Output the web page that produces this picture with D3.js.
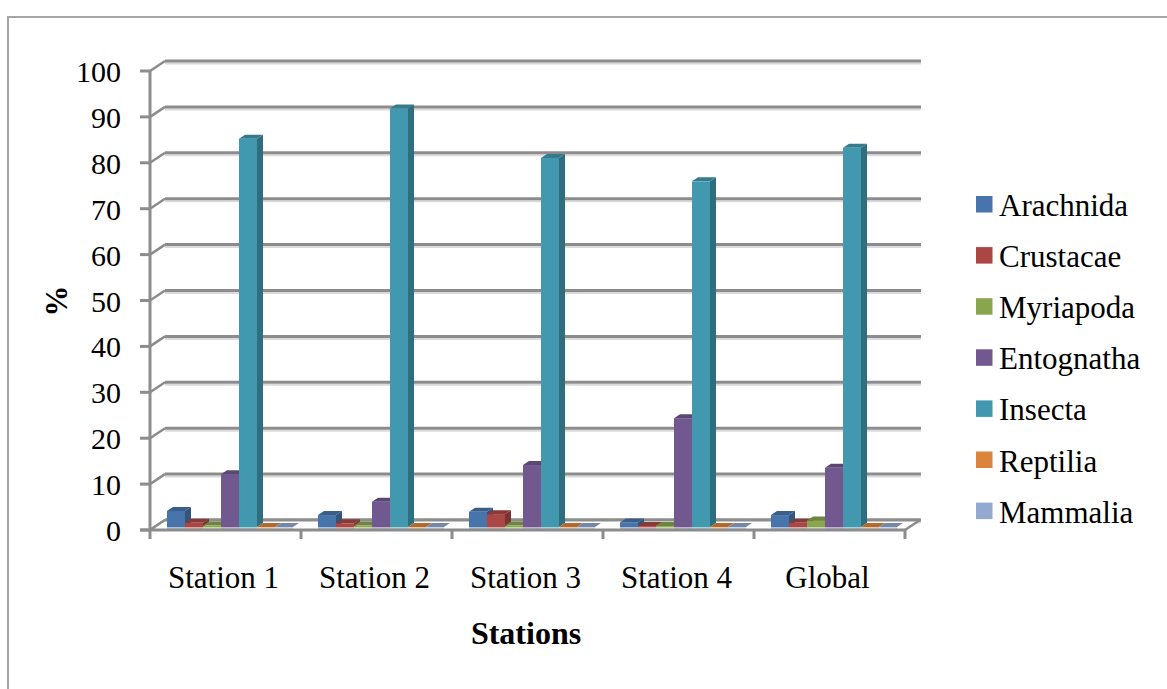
<!DOCTYPE html>
<html><head><meta charset="utf-8">
<script src="https://cdn.jsdelivr.net/npm/d3@7"></script>
<style>
html,body{margin:0;padding:0;background:#fff;}
svg{display:block;}
text{font-family:"Liberation Serif","Times New Roman",serif;fill:#000;}
</style></head>
<body>
<svg id="chart" width="1167" height="689"></svg>
<script>
const categories = ["Station 1", "Station 2", "Station 3", "Station 4", "Global"];
const seriesNames = ["Arachnida", "Crustacae", "Myriapoda", "Entognatha", "Insecta", "Reptilia", "Mammalia"];
const arachnida  = [3.5, 2.6, 3.3, 1.0, 2.6];
const crustacae  = [0.9, 0.8, 2.8, 0.2, 0.9];
const myriapoda  = [0.3, 0.3, 0.3, 0.2, 1.4];
const entognatha = [11.5, 5.5, 13.5, 23.7, 12.9];
const insecta    = [84.6, 91.2, 80.4, 75.3, 82.6];
const reptilia   = [0, 0, 0, 0, 0];
const mammalia   = [0, 0, 0, 0, 0];
const seriesValues = [arachnida, crustacae, myriapoda, entognatha, insecta, reptilia, mammalia];
const yTicks = [0, 10, 20, 30, 40, 50, 60, 70, 80, 90, 100];
const colors = ["#4674AB", "#AA4644", "#89A54E", "#71588F", "#4198AF", "#DB843D", "#93A9CF"];

const svg = d3.select("#chart");
const FS = 30, FL = 31;
// frame
svg.append("rect").attr("x", 8).attr("y", 17).attr("width", 1200).attr("height", 700)
  .attr("fill", "none").attr("stroke", "#a6a6a6").attr("stroke-width", 2);

const x0 = d3.scaleBand().domain(categories).range([150, 905]).paddingInner(0).paddingOuter(0);
const x1 = d3.scaleBand().domain(seriesNames).range([0, x0.bandwidth()]).paddingInner(0).paddingOuter(0.694);
const y = d3.scaleLinear().domain([0, 100]).range([530, 71]);
const DX = 15, DY = -10;      // wall depth
const BFX = 4.5, BFY = -3;    // bar front plane offset
const BDX = 6, BDY = -4;      // bar depth

const grid = svg.append("g");
yTicks.forEach(t => {
  const yb = y(t) + DY;
  grid.append("line").attr("x1", 150 + DX).attr("x2", 905 + DX + 1).attr("y1", yb + 2.5).attr("y2", yb + 2.5)
    .attr("stroke", "#dadada").attr("stroke-width", 2);
  grid.append("line").attr("x1", 150 + DX).attr("x2", 905 + DX + 1).attr("y1", yb).attr("y2", yb)
    .attr("stroke", "#8c8c8c").attr("stroke-width", 3);
  grid.append("line").attr("x1", 150).attr("y1", y(t)).attr("x2", 150 + DX).attr("y2", yb)
    .attr("stroke", "#8c8c8c").attr("stroke-width", 2.5);
});
// floor
grid.append("polygon")
  .attr("points", [[150, y(0)], [150 + DX, y(0) + DY], [905 + DX, y(0) + DY], [905, y(0)]].map(p => p.join(",")).join(" "))
  .attr("fill", "#fff").attr("stroke", "none");
grid.append("line").attr("x1", 150 + DX).attr("x2", 905 + DX).attr("y1", y(0) + DY).attr("y2", y(0) + DY)
  .attr("stroke", "#8c8c8c").attr("stroke-width", 3);
grid.append("line").attr("x1", 905).attr("y1", y(0)).attr("x2", 905 + DX).attr("y2", y(0) + DY)
  .attr("stroke", "#8c8c8c").attr("stroke-width", 2.5);
grid.append("line").attr("x1", 150).attr("y1", y(0)).attr("x2", 150 + DX).attr("y2", y(0) + DY)
  .attr("stroke", "#8c8c8c").attr("stroke-width", 2.5);

// bars
const bars = svg.append("g");
categories.forEach((c, ci) => {
  seriesNames.forEach((s, si) => {
    const v = seriesValues[si][ci];
    const col = d3.color(colors[si]);
    const bx = x0(c) + x1(s) + BFX;
    const w = x1.bandwidth();
    const yBase = y(0) + BFY;
    const yTop = y(v) + BFY;
    bars.append("rect").attr("x", bx).attr("y", yBase).attr("width", w).attr("height", 3)
      .attr("fill", d3.interpolateRgb(colors[si], "#fff")(0.55));
    if (yBase - yTop > 0) {
      bars.append("rect").attr("x", bx).attr("y", yTop).attr("width", w).attr("height", yBase - yTop)
        .attr("fill", colors[si]);
      bars.append("polygon")
        .attr("points", [[bx + w, yTop], [bx + w + BDX, yTop + BDY], [bx + w + BDX, yBase + BDY], [bx + w, yBase]].map(p => p.join(",")).join(" "))
        .attr("fill", col.darker(0.9));
    }
    bars.append("polygon")
      .attr("points", [[bx, yTop], [bx + BDX, yTop + BDY], [bx + w + BDX, yTop + BDY], [bx + w, yTop]].map(p => p.join(",")).join(" "))
      .attr("fill", col.darker(0.6));
  });
});

// front axes
const ax = svg.append("g");
ax.append("line").attr("x1", 150).attr("x2", 150).attr("y1", y(100)).attr("y2", y(0) + 1)
  .attr("stroke", "#8c8c8c").attr("stroke-width", 3);
ax.append("line").attr("x1", 140).attr("x2", 906).attr("y1", y(0)).attr("y2", y(0))
  .attr("stroke", "#8c8c8c").attr("stroke-width", 3);
yTicks.forEach(t => {
  ax.append("line").attr("x1", 140).attr("x2", 150).attr("y1", y(t)).attr("y2", y(t))
    .attr("stroke", "#8c8c8c").attr("stroke-width", 3);
  ax.append("text").attr("x", 121).attr("y", y(t) + 11).attr("text-anchor", "end")
    .attr("font-size", FS).text(t);
});
const bounds = categories.map(c => x0(c)).concat([x0(categories[categories.length - 1]) + x0.bandwidth()]);
bounds.forEach(bx => {
  ax.append("line").attr("x1", bx).attr("x2", bx).attr("y1", y(0)).attr("y2", y(0) + 9)
    .attr("stroke", "#8c8c8c").attr("stroke-width", 3);
});
categories.forEach(c => {
  ax.append("text").attr("x", x0(c) + x0.bandwidth() / 2 - 2).attr("y", 588).attr("text-anchor", "middle")
    .attr("font-size", FL).text(c);
});

// axis titles
svg.append("text").attr("x", 526).attr("y", 644).attr("text-anchor", "middle")
  .attr("font-size", 32).attr("font-weight", "bold").text("Stations");
svg.append("text").attr("transform", "translate(67,301) rotate(-90)").attr("text-anchor", "middle")
  .attr("font-size", FL).attr("font-weight", "bold").text("%");

// legend
const lg = svg.append("g");
seriesNames.forEach((s, i) => {
  const yy = 196 + i * 51.1;
  lg.append("rect").attr("x", 976).attr("y", yy).attr("width", 16.5).attr("height", 16.5).attr("fill", colors[i]);
  lg.append("text").attr("x", 999).attr("y", yy + 20).attr("font-size", FL).text(s);
});
</script>
</body></html>
